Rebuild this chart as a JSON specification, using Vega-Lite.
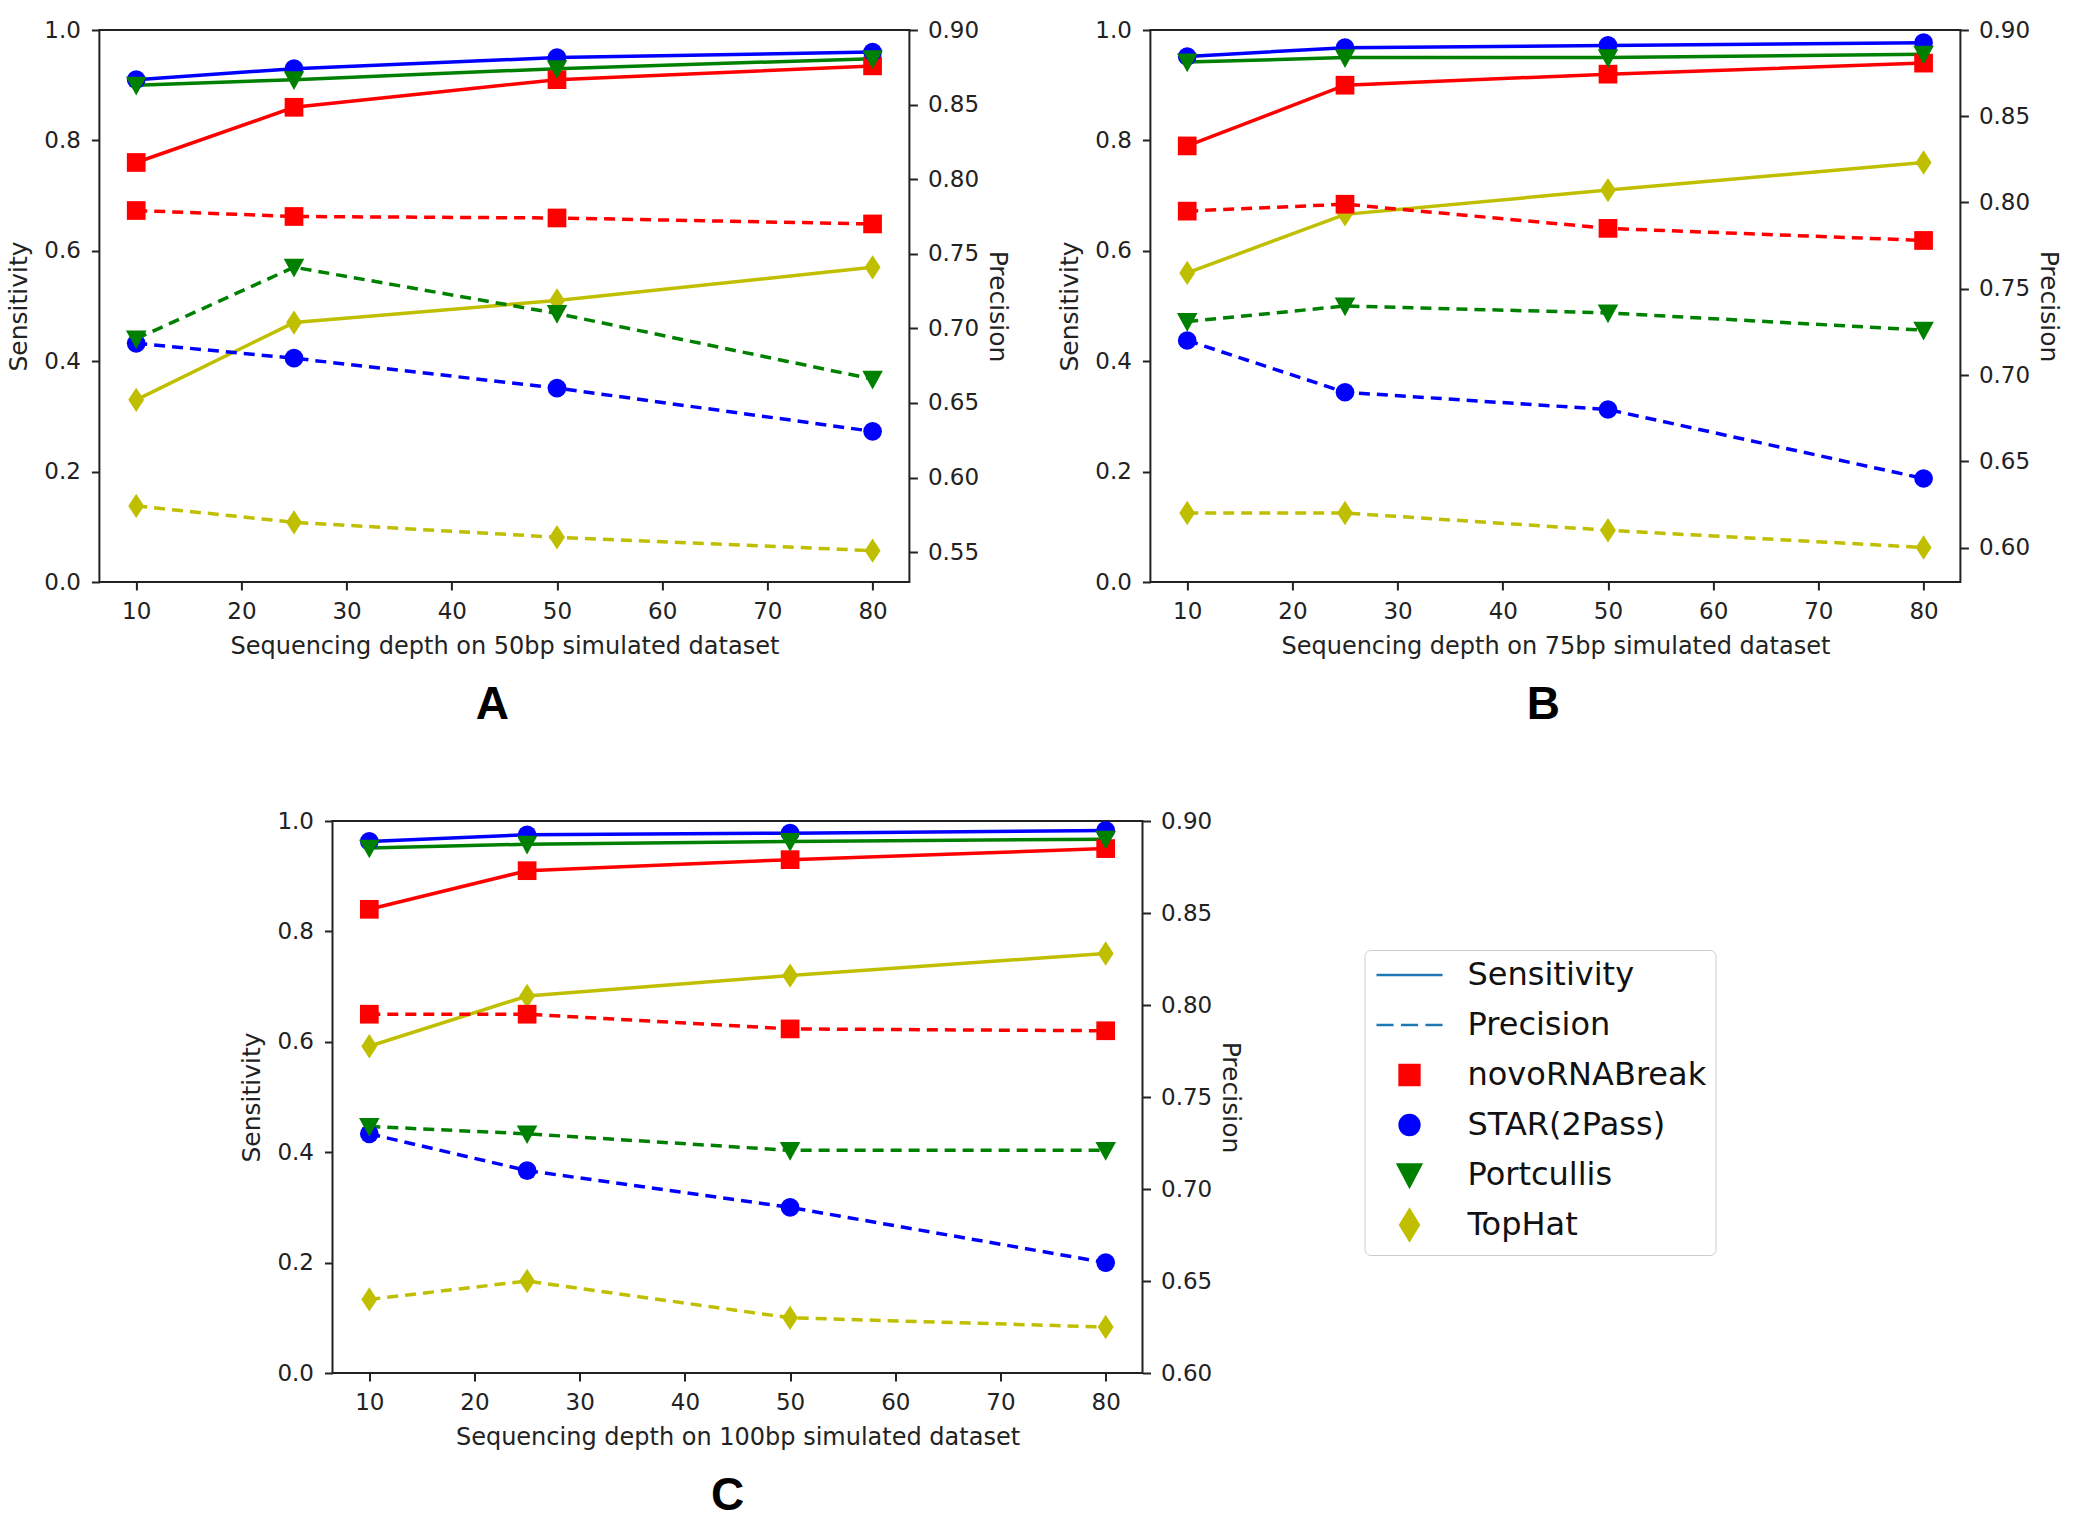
{
  "$schema": "https://vega.github.io/schema/vega-lite/v6.json",
  "background": "white",
  "padding": {"left": 5, "top": 18, "right": 5, "bottom": 5},
  "datasets": {
    "main": [
      {"panel": "A", "metric": "Sensitivity", "tool": "novoRNABreak", "depth": 10, "value": 0.76},
      {"panel": "A", "metric": "Sensitivity", "tool": "novoRNABreak", "depth": 25, "value": 0.86},
      {"panel": "A", "metric": "Sensitivity", "tool": "novoRNABreak", "depth": 50, "value": 0.91},
      {"panel": "A", "metric": "Sensitivity", "tool": "novoRNABreak", "depth": 80, "value": 0.935},
      {"panel": "A", "metric": "Sensitivity", "tool": "STAR(2Pass)", "depth": 10, "value": 0.91},
      {"panel": "A", "metric": "Sensitivity", "tool": "STAR(2Pass)", "depth": 25, "value": 0.93},
      {"panel": "A", "metric": "Sensitivity", "tool": "STAR(2Pass)", "depth": 50, "value": 0.95},
      {"panel": "A", "metric": "Sensitivity", "tool": "STAR(2Pass)", "depth": 80, "value": 0.96},
      {"panel": "A", "metric": "Sensitivity", "tool": "Portcullis", "depth": 10, "value": 0.90},
      {"panel": "A", "metric": "Sensitivity", "tool": "Portcullis", "depth": 25, "value": 0.91},
      {"panel": "A", "metric": "Sensitivity", "tool": "Portcullis", "depth": 50, "value": 0.93},
      {"panel": "A", "metric": "Sensitivity", "tool": "Portcullis", "depth": 80, "value": 0.948},
      {"panel": "A", "metric": "Sensitivity", "tool": "TopHat", "depth": 10, "value": 0.33},
      {"panel": "A", "metric": "Sensitivity", "tool": "TopHat", "depth": 25, "value": 0.47},
      {"panel": "A", "metric": "Sensitivity", "tool": "TopHat", "depth": 50, "value": 0.51},
      {"panel": "A", "metric": "Sensitivity", "tool": "TopHat", "depth": 80, "value": 0.57},
      {"panel": "A", "metric": "Precision", "tool": "novoRNABreak", "depth": 10, "value": 0.779},
      {"panel": "A", "metric": "Precision", "tool": "novoRNABreak", "depth": 25, "value": 0.775},
      {"panel": "A", "metric": "Precision", "tool": "novoRNABreak", "depth": 50, "value": 0.774},
      {"panel": "A", "metric": "Precision", "tool": "novoRNABreak", "depth": 80, "value": 0.770},
      {"panel": "A", "metric": "Precision", "tool": "STAR(2Pass)", "depth": 10, "value": 0.690},
      {"panel": "A", "metric": "Precision", "tool": "STAR(2Pass)", "depth": 25, "value": 0.680},
      {"panel": "A", "metric": "Precision", "tool": "STAR(2Pass)", "depth": 50, "value": 0.660},
      {"panel": "A", "metric": "Precision", "tool": "STAR(2Pass)", "depth": 80, "value": 0.631},
      {"panel": "A", "metric": "Precision", "tool": "Portcullis", "depth": 10, "value": 0.693},
      {"panel": "A", "metric": "Precision", "tool": "Portcullis", "depth": 25, "value": 0.741},
      {"panel": "A", "metric": "Precision", "tool": "Portcullis", "depth": 50, "value": 0.710},
      {"panel": "A", "metric": "Precision", "tool": "Portcullis", "depth": 80, "value": 0.666},
      {"panel": "A", "metric": "Precision", "tool": "TopHat", "depth": 10, "value": 0.581},
      {"panel": "A", "metric": "Precision", "tool": "TopHat", "depth": 25, "value": 0.570},
      {"panel": "A", "metric": "Precision", "tool": "TopHat", "depth": 50, "value": 0.560},
      {"panel": "A", "metric": "Precision", "tool": "TopHat", "depth": 80, "value": 0.551},

      {"panel": "B", "metric": "Sensitivity", "tool": "novoRNABreak", "depth": 10, "value": 0.79},
      {"panel": "B", "metric": "Sensitivity", "tool": "novoRNABreak", "depth": 25, "value": 0.90},
      {"panel": "B", "metric": "Sensitivity", "tool": "novoRNABreak", "depth": 50, "value": 0.92},
      {"panel": "B", "metric": "Sensitivity", "tool": "novoRNABreak", "depth": 80, "value": 0.94},
      {"panel": "B", "metric": "Sensitivity", "tool": "STAR(2Pass)", "depth": 10, "value": 0.952},
      {"panel": "B", "metric": "Sensitivity", "tool": "STAR(2Pass)", "depth": 25, "value": 0.968},
      {"panel": "B", "metric": "Sensitivity", "tool": "STAR(2Pass)", "depth": 50, "value": 0.972},
      {"panel": "B", "metric": "Sensitivity", "tool": "STAR(2Pass)", "depth": 80, "value": 0.977},
      {"panel": "B", "metric": "Sensitivity", "tool": "Portcullis", "depth": 10, "value": 0.942},
      {"panel": "B", "metric": "Sensitivity", "tool": "Portcullis", "depth": 25, "value": 0.950},
      {"panel": "B", "metric": "Sensitivity", "tool": "Portcullis", "depth": 50, "value": 0.950},
      {"panel": "B", "metric": "Sensitivity", "tool": "Portcullis", "depth": 80, "value": 0.956},
      {"panel": "B", "metric": "Sensitivity", "tool": "TopHat", "depth": 10, "value": 0.56},
      {"panel": "B", "metric": "Sensitivity", "tool": "TopHat", "depth": 25, "value": 0.666},
      {"panel": "B", "metric": "Sensitivity", "tool": "TopHat", "depth": 50, "value": 0.71},
      {"panel": "B", "metric": "Sensitivity", "tool": "TopHat", "depth": 80, "value": 0.76},
      {"panel": "B", "metric": "Precision", "tool": "novoRNABreak", "depth": 10, "value": 0.795},
      {"panel": "B", "metric": "Precision", "tool": "novoRNABreak", "depth": 25, "value": 0.799},
      {"panel": "B", "metric": "Precision", "tool": "novoRNABreak", "depth": 50, "value": 0.785},
      {"panel": "B", "metric": "Precision", "tool": "novoRNABreak", "depth": 80, "value": 0.778},
      {"panel": "B", "metric": "Precision", "tool": "STAR(2Pass)", "depth": 10, "value": 0.720},
      {"panel": "B", "metric": "Precision", "tool": "STAR(2Pass)", "depth": 25, "value": 0.690},
      {"panel": "B", "metric": "Precision", "tool": "STAR(2Pass)", "depth": 50, "value": 0.680},
      {"panel": "B", "metric": "Precision", "tool": "STAR(2Pass)", "depth": 80, "value": 0.640},
      {"panel": "B", "metric": "Precision", "tool": "Portcullis", "depth": 10, "value": 0.731},
      {"panel": "B", "metric": "Precision", "tool": "Portcullis", "depth": 25, "value": 0.740},
      {"panel": "B", "metric": "Precision", "tool": "Portcullis", "depth": 50, "value": 0.736},
      {"panel": "B", "metric": "Precision", "tool": "Portcullis", "depth": 80, "value": 0.726},
      {"panel": "B", "metric": "Precision", "tool": "TopHat", "depth": 10, "value": 0.620},
      {"panel": "B", "metric": "Precision", "tool": "TopHat", "depth": 25, "value": 0.620},
      {"panel": "B", "metric": "Precision", "tool": "TopHat", "depth": 50, "value": 0.610},
      {"panel": "B", "metric": "Precision", "tool": "TopHat", "depth": 80, "value": 0.600},

      {"panel": "C", "metric": "Sensitivity", "tool": "novoRNABreak", "depth": 10, "value": 0.84},
      {"panel": "C", "metric": "Sensitivity", "tool": "novoRNABreak", "depth": 25, "value": 0.91},
      {"panel": "C", "metric": "Sensitivity", "tool": "novoRNABreak", "depth": 50, "value": 0.93},
      {"panel": "C", "metric": "Sensitivity", "tool": "novoRNABreak", "depth": 80, "value": 0.95},
      {"panel": "C", "metric": "Sensitivity", "tool": "STAR(2Pass)", "depth": 10, "value": 0.963},
      {"panel": "C", "metric": "Sensitivity", "tool": "STAR(2Pass)", "depth": 25, "value": 0.975},
      {"panel": "C", "metric": "Sensitivity", "tool": "STAR(2Pass)", "depth": 50, "value": 0.978},
      {"panel": "C", "metric": "Sensitivity", "tool": "STAR(2Pass)", "depth": 80, "value": 0.983},
      {"panel": "C", "metric": "Sensitivity", "tool": "Portcullis", "depth": 10, "value": 0.951},
      {"panel": "C", "metric": "Sensitivity", "tool": "Portcullis", "depth": 25, "value": 0.958},
      {"panel": "C", "metric": "Sensitivity", "tool": "Portcullis", "depth": 50, "value": 0.963},
      {"panel": "C", "metric": "Sensitivity", "tool": "Portcullis", "depth": 80, "value": 0.967},
      {"panel": "C", "metric": "Sensitivity", "tool": "TopHat", "depth": 10, "value": 0.592},
      {"panel": "C", "metric": "Sensitivity", "tool": "TopHat", "depth": 25, "value": 0.683},
      {"panel": "C", "metric": "Sensitivity", "tool": "TopHat", "depth": 50, "value": 0.72},
      {"panel": "C", "metric": "Sensitivity", "tool": "TopHat", "depth": 80, "value": 0.76},
      {"panel": "C", "metric": "Precision", "tool": "novoRNABreak", "depth": 10, "value": 0.795},
      {"panel": "C", "metric": "Precision", "tool": "novoRNABreak", "depth": 25, "value": 0.795},
      {"panel": "C", "metric": "Precision", "tool": "novoRNABreak", "depth": 50, "value": 0.787},
      {"panel": "C", "metric": "Precision", "tool": "novoRNABreak", "depth": 80, "value": 0.786},
      {"panel": "C", "metric": "Precision", "tool": "STAR(2Pass)", "depth": 10, "value": 0.730},
      {"panel": "C", "metric": "Precision", "tool": "STAR(2Pass)", "depth": 25, "value": 0.710},
      {"panel": "C", "metric": "Precision", "tool": "STAR(2Pass)", "depth": 50, "value": 0.690},
      {"panel": "C", "metric": "Precision", "tool": "STAR(2Pass)", "depth": 80, "value": 0.660},
      {"panel": "C", "metric": "Precision", "tool": "Portcullis", "depth": 10, "value": 0.734},
      {"panel": "C", "metric": "Precision", "tool": "Portcullis", "depth": 25, "value": 0.730},
      {"panel": "C", "metric": "Precision", "tool": "Portcullis", "depth": 50, "value": 0.721},
      {"panel": "C", "metric": "Precision", "tool": "Portcullis", "depth": 80, "value": 0.721},
      {"panel": "C", "metric": "Precision", "tool": "TopHat", "depth": 10, "value": 0.640},
      {"panel": "C", "metric": "Precision", "tool": "TopHat", "depth": 25, "value": 0.650},
      {"panel": "C", "metric": "Precision", "tool": "TopHat", "depth": 50, "value": 0.630},
      {"panel": "C", "metric": "Precision", "tool": "TopHat", "depth": 80, "value": 0.625}
    ]
  },
  "data": {"name": "main"},
  "config": {
    "view": {"stroke": "#222222", "strokeWidth": 2},
    "axis": {
      "grid": false, "domain": false, "tickSize": 8, "tickWidth": 2, "tickColor": "#222222",
      "labelFont": "DejaVu Sans", "labelFontSize": 23, "labelColor": "#222222",
      "titleFont": "DejaVu Sans", "titleFontSize": 25, "titleFontWeight": "normal", "titleColor": "#222222"
    },
    "axisX": {"titleFontSize": 24},
    "title": {"font": "Liberation Sans", "fontSize": 46, "fontWeight": "bold", "color": "#000000"}
  },
  "spacing": 80,
  "center": true,
  "resolve": {"scale": {"color": "independent", "shape": "independent", "fill": "independent", "stroke": "independent"}},
  "vconcat": [
    {
      "spacing": 45,
      "resolve": {"scale": {"color": "independent", "shape": "independent", "fill": "independent", "stroke": "independent"}},
      "hconcat": [
        {
          "width": 810, "height": 552,
          "title": {"text": "A", "orient": "bottom", "anchor": "middle", "frame": "group", "offset": 25, "dx": -12},
          "transform": [{"filter": "datum.panel == 'A'"}],
          "encoding": {
            "x": {"field": "depth", "type": "quantitative",
                  "scale": {"domain": [6.5, 83.5], "nice": false, "zero": false},
                  "axis": {"values": [10, 20, 30, 40, 50, 60, 70, 80], "labelPadding": 10, "titlePadding": 11, "title": "Sequencing depth on 50bp simulated dataset"}}
          },
          "layer": [
            {
              "transform": [{"filter": "datum.metric == 'Sensitivity'"}],
              "encoding": {
                "y": {"field": "value", "type": "quantitative", "scale": {"domain": [0, 1], "nice": false, "zero": false},
                      "axis": {"orient": "left", "values": [0, 0.2, 0.4, 0.6, 0.8, 1.0], "format": ".1f", "labelPadding": 11, "titlePadding": 12, "title": "Sensitivity"}},
                "color": {"field": "tool", "type": "nominal", "legend": null,
                          "scale": {"domain": ["novoRNABreak", "STAR(2Pass)", "Portcullis", "TopHat"], "range": ["#ff0000", "#0000ff", "#008000", "#bfbf00"]}}
              },
              "layer": [
                {"mark": {"type": "line", "strokeWidth": 3.5}},
                {"mark": {"type": "point", "filled": true, "opacity": 1, "size": 350},
                 "encoding": {"shape": {"field": "tool", "type": "nominal", "legend": null,
                   "scale": {"domain": ["novoRNABreak", "STAR(2Pass)", "Portcullis", "TopHat"], "range": ["square", "circle", "M-1.1,-0.9L1.1,-0.9L0,1.1Z", "M0,-1.3L0.85,0L0,1.3L-0.85,0Z"]}}}}
              ]
            },
            {
              "transform": [{"filter": "datum.metric == 'Precision'"}],
              "encoding": {
                "y": {"field": "value", "type": "quantitative", "scale": {"domain": [0.53, 0.9], "nice": false, "zero": false},
                      "axis": {"orient": "right", "values": [0.55, 0.6, 0.65, 0.7, 0.75, 0.8, 0.85, 0.9], "format": ".2f", "labelPadding": 10, "titlePadding": 6, "title": "Precision"}},
                "color": {"field": "tool", "type": "nominal", "legend": null,
                          "scale": {"domain": ["novoRNABreak", "STAR(2Pass)", "Portcullis", "TopHat"], "range": ["#ff0000", "#0000ff", "#008000", "#bfbf00"]}}
              },
              "layer": [
                {"mark": {"type": "line", "strokeWidth": 3.5, "strokeDash": [11, 7]}},
                {"mark": {"type": "point", "filled": true, "opacity": 1, "size": 350},
                 "encoding": {"shape": {"field": "tool", "type": "nominal", "legend": null,
                   "scale": {"domain": ["novoRNABreak", "STAR(2Pass)", "Portcullis", "TopHat"], "range": ["square", "circle", "M-1.1,-0.9L1.1,-0.9L0,1.1Z", "M0,-1.3L0.85,0L0,1.3L-0.85,0Z"]}}}}
              ]
            }
          ],
          "resolve": {"scale": {"y": "independent"}}
        },
        {
          "width": 810, "height": 552,
          "title": {"text": "B", "orient": "bottom", "anchor": "middle", "frame": "group", "offset": 25, "dx": -12},
          "transform": [{"filter": "datum.panel == 'B'"}],
          "encoding": {
            "x": {"field": "depth", "type": "quantitative",
                  "scale": {"domain": [6.5, 83.5], "nice": false, "zero": false},
                  "axis": {"values": [10, 20, 30, 40, 50, 60, 70, 80], "labelPadding": 10, "titlePadding": 11, "title": "Sequencing depth on 75bp simulated dataset"}}
          },
          "layer": [
            {
              "transform": [{"filter": "datum.metric == 'Sensitivity'"}],
              "encoding": {
                "y": {"field": "value", "type": "quantitative", "scale": {"domain": [0, 1], "nice": false, "zero": false},
                      "axis": {"orient": "left", "values": [0, 0.2, 0.4, 0.6, 0.8, 1.0], "format": ".1f", "labelPadding": 11, "titlePadding": 12, "title": "Sensitivity"}},
                "color": {"field": "tool", "type": "nominal", "legend": null,
                          "scale": {"domain": ["novoRNABreak", "STAR(2Pass)", "Portcullis", "TopHat"], "range": ["#ff0000", "#0000ff", "#008000", "#bfbf00"]}}
              },
              "layer": [
                {"mark": {"type": "line", "strokeWidth": 3.5}},
                {"mark": {"type": "point", "filled": true, "opacity": 1, "size": 350},
                 "encoding": {"shape": {"field": "tool", "type": "nominal", "legend": null,
                   "scale": {"domain": ["novoRNABreak", "STAR(2Pass)", "Portcullis", "TopHat"], "range": ["square", "circle", "M-1.1,-0.9L1.1,-0.9L0,1.1Z", "M0,-1.3L0.85,0L0,1.3L-0.85,0Z"]}}}}
              ]
            },
            {
              "transform": [{"filter": "datum.metric == 'Precision'"}],
              "encoding": {
                "y": {"field": "value", "type": "quantitative", "scale": {"domain": [0.58, 0.9], "nice": false, "zero": false},
                      "axis": {"orient": "right", "values": [0.6, 0.65, 0.7, 0.75, 0.8, 0.85, 0.9], "format": ".2f", "labelPadding": 10, "titlePadding": 6, "title": "Precision"}},
                "color": {"field": "tool", "type": "nominal", "legend": null,
                          "scale": {"domain": ["novoRNABreak", "STAR(2Pass)", "Portcullis", "TopHat"], "range": ["#ff0000", "#0000ff", "#008000", "#bfbf00"]}}
              },
              "layer": [
                {"mark": {"type": "line", "strokeWidth": 3.5, "strokeDash": [11, 7]}},
                {"mark": {"type": "point", "filled": true, "opacity": 1, "size": 350},
                 "encoding": {"shape": {"field": "tool", "type": "nominal", "legend": null,
                   "scale": {"domain": ["novoRNABreak", "STAR(2Pass)", "Portcullis", "TopHat"], "range": ["square", "circle", "M-1.1,-0.9L1.1,-0.9L0,1.1Z", "M0,-1.3L0.85,0L0,1.3L-0.85,0Z"]}}}}
              ]
            }
          ],
          "resolve": {"scale": {"y": "independent"}}
        }
      ]
    },
    {
      "spacing": 20,
      "resolve": {"scale": {"color": "independent", "shape": "independent", "fill": "independent", "stroke": "independent"}},
      "hconcat": [
        {
          "width": 810, "height": 552,
          "title": {"text": "C", "orient": "bottom", "anchor": "middle", "frame": "group", "offset": 25, "dx": -10},
          "transform": [{"filter": "datum.panel == 'C'"}],
          "encoding": {
            "x": {"field": "depth", "type": "quantitative",
                  "scale": {"domain": [6.5, 83.5], "nice": false, "zero": false},
                  "axis": {"values": [10, 20, 30, 40, 50, 60, 70, 80], "labelPadding": 10, "titlePadding": 11, "title": "Sequencing depth on 100bp simulated dataset"}}
          },
          "layer": [
            {
              "transform": [{"filter": "datum.metric == 'Sensitivity'"}],
              "encoding": {
                "y": {"field": "value", "type": "quantitative", "scale": {"domain": [0, 1], "nice": false, "zero": false},
                      "axis": {"orient": "left", "values": [0, 0.2, 0.4, 0.6, 0.8, 1.0], "format": ".1f", "labelPadding": 11, "titlePadding": 12, "title": "Sensitivity"}},
                "color": {"field": "tool", "type": "nominal", "legend": null,
                          "scale": {"domain": ["novoRNABreak", "STAR(2Pass)", "Portcullis", "TopHat"], "range": ["#ff0000", "#0000ff", "#008000", "#bfbf00"]}}
              },
              "layer": [
                {"mark": {"type": "line", "strokeWidth": 3.5}},
                {"mark": {"type": "point", "filled": true, "opacity": 1, "size": 350},
                 "encoding": {"shape": {"field": "tool", "type": "nominal", "legend": null,
                   "scale": {"domain": ["novoRNABreak", "STAR(2Pass)", "Portcullis", "TopHat"], "range": ["square", "circle", "M-1.1,-0.9L1.1,-0.9L0,1.1Z", "M0,-1.3L0.85,0L0,1.3L-0.85,0Z"]}}}}
              ]
            },
            {
              "transform": [{"filter": "datum.metric == 'Precision'"}],
              "encoding": {
                "y": {"field": "value", "type": "quantitative", "scale": {"domain": [0.6, 0.9], "nice": false, "zero": false},
                      "axis": {"orient": "right", "values": [0.6, 0.65, 0.7, 0.75, 0.8, 0.85, 0.9], "format": ".2f", "labelPadding": 10, "titlePadding": 6, "title": "Precision"}},
                "color": {"field": "tool", "type": "nominal", "legend": null,
                          "scale": {"domain": ["novoRNABreak", "STAR(2Pass)", "Portcullis", "TopHat"], "range": ["#ff0000", "#0000ff", "#008000", "#bfbf00"]}}
              },
              "layer": [
                {"mark": {"type": "line", "strokeWidth": 3.5, "strokeDash": [11, 7]}},
                {"mark": {"type": "point", "filled": true, "opacity": 1, "size": 350},
                 "encoding": {"shape": {"field": "tool", "type": "nominal", "legend": null,
                   "scale": {"domain": ["novoRNABreak", "STAR(2Pass)", "Portcullis", "TopHat"], "range": ["square", "circle", "M-1.1,-0.9L1.1,-0.9L0,1.1Z", "M0,-1.3L0.85,0L0,1.3L-0.85,0Z"]}}}}
              ]
            }
          ],
          "resolve": {"scale": {"y": "independent"}}
        },
        {
          "width": 564, "height": 500,
          "view": {"stroke": null},
          "data": {"values": []},
          "mark": {"type": "point", "filled": true, "opacity": 1, "strokeWidth": 2.5},
          "encoding": {
            "fill": {"field": "entry", "type": "nominal",
              "scale": {"domain": ["Sensitivity", "Precision", "novoRNABreak", "STAR(2Pass)", "Portcullis", "TopHat"], "range": ["#1f77b4", "#1f77b4", "#ff0000", "#0000ff", "#008000", "#bfbf00"]},
              "legend": {"title": null, "orient": "none", "legendX": 100, "legendY": 129, "labelFont": "DejaVu Sans", "labelFontSize": 32, "labelColor": "#111111", "labelLimit": 400, "symbolSize": 484, "symbolStrokeWidth": 2.5, "padding": 9, "symbolOffset": 20, "labelOffset": 42, "rowPadding": 8, "strokeColor": "#cccccc", "fillColor": "white", "cornerRadius": 6}},
            "stroke": {"field": "entry", "type": "nominal",
              "scale": {"domain": ["Sensitivity", "Precision", "novoRNABreak", "STAR(2Pass)", "Portcullis", "TopHat"], "range": ["#1f77b4", "#1f77b4", "#ff0000", "#0000ff", "#008000", "#bfbf00"]},
              "legend": {"title": null, "orient": "none", "legendX": 100, "legendY": 129, "labelFont": "DejaVu Sans", "labelFontSize": 32, "labelColor": "#111111", "labelLimit": 400, "symbolSize": 484, "symbolStrokeWidth": 2.5, "padding": 9, "symbolOffset": 20, "labelOffset": 42, "rowPadding": 8, "strokeColor": "#cccccc", "fillColor": "white", "cornerRadius": 6}},
            "shape": {"field": "entry", "type": "nominal",
              "scale": {"domain": ["Sensitivity", "Precision", "novoRNABreak", "STAR(2Pass)", "Portcullis", "TopHat"],
                        "range": ["M0,-1.4M-3,0L3,0M0,1.4", "M0,-1.4M-3,0L-1.45,0M-0.78,0L0.78,0M1.45,0L3,0M0,1.4", "M0,-1.4M-0.9,-0.9L0.9,-0.9L0.9,0.9L-0.9,0.9ZM0,1.4", "M0,-1.4M-0.9,0A0.9,0.9,0,1,0,0.9,0A0.9,0.9,0,1,0,-0.9,0ZM0,1.4", "M0,-1.4M-1.05,-0.95L1.05,-0.95L0,1.05ZM0,1.4", "M0,-1.4L0.85,0L0,1.4L-0.85,0Z"]},
              "legend": {"title": null, "orient": "none", "legendX": 100, "legendY": 129, "labelFont": "DejaVu Sans", "labelFontSize": 32, "labelColor": "#111111", "labelLimit": 400, "symbolSize": 484, "symbolStrokeWidth": 2.5, "padding": 9, "symbolOffset": 20, "labelOffset": 42, "rowPadding": 8, "strokeColor": "#cccccc", "fillColor": "white", "cornerRadius": 6}}
          }
        }
      ]
    }
  ]
}
